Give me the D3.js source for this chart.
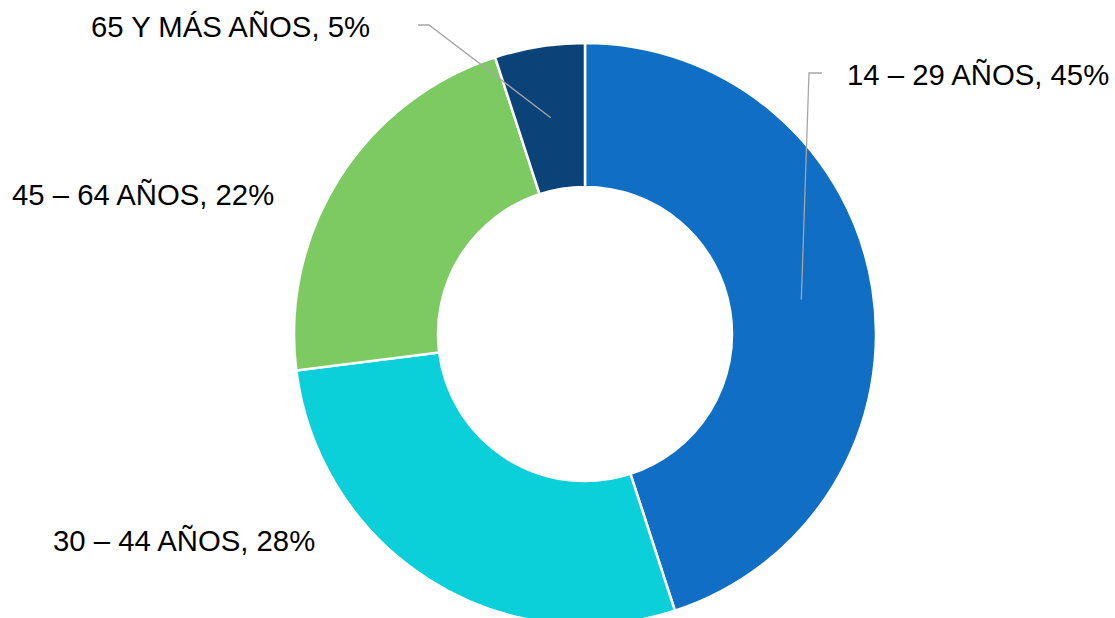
<!DOCTYPE html>
<html>
<head>
<meta charset="utf-8">
<script src="https://cdn.jsdelivr.net/npm/d3@7"></script>
<style>
  body { margin: 0; background: #fff; }
  text { font-family: "Liberation Sans", Arial, sans-serif; }
</style>
</head>
<body>
<div id="chart"></div>
<script>
var categories = ["14 – 29 AÑOS", "30 – 44 AÑOS", "45 – 64 AÑOS", "65 Y MÁS AÑOS"];
var values = [45, 28, 22, 5];
var colors = ["#106ec4", "#0bd0d9", "#7dca62", "#0b4277"];

// label placement (text start x, baseline y) and optional leader elbow
var labelAt = [[847, 85], [53, 551], [12, 205], [91, 37]];
var elbows = [[[809, 73], [822, 73]], null, null, [[429, 25], [418, 25]]];

var width = 1115, height = 618,
    cx = 585, cy = 334,
    outerRadius = 291, innerRadius = 147;

var svg = d3.select("#chart")
  .append("svg")
    .attr("width", width)
    .attr("height", height);

var g = svg.append("g")
    .attr("transform", "translate(" + cx + "," + cy + ")");

var data = categories.map(function(c, i) { return {name: c, value: values[i], i: i}; });

var pie = d3.pie()
    .sort(null)
    .value(function(d) { return d.value; });

var arc = d3.arc()
    .innerRadius(innerRadius)
    .outerRadius(outerRadius);

var arcs = pie(data);

g.selectAll("path")
  .data(arcs)
  .enter()
  .append("path")
    .attr("d", arc)
    .attr("fill", function(d) { return colors[d.data.i]; })
    .attr("stroke", "#fff")
    .attr("stroke-width", 2.5);

// leader lines from slice centroid
arcs.forEach(function(d) {
  var e = elbows[d.data.i];
  if (!e) return;
  var c = arc.centroid(d);
  var pts = [[c[0] + cx, c[1] + cy]].concat(e);
  svg.append("path")
    .attr("d", d3.line()(pts))
    .attr("fill", "none")
    .attr("stroke", "#a6a6a6")
    .attr("stroke-width", 1.3);
});

svg.append("g")
  .selectAll("text")
  .data(arcs)
  .enter()
  .append("text")
    .attr("x", function(d) { return labelAt[d.data.i][0]; })
    .attr("y", function(d) { return labelAt[d.data.i][1]; })
    .style("font-size", "29.3px")
    .attr("fill", "#000")
    .text(function(d) { return d.data.name + ", " + d.data.value + "%"; });
</script>
</body>
</html>
